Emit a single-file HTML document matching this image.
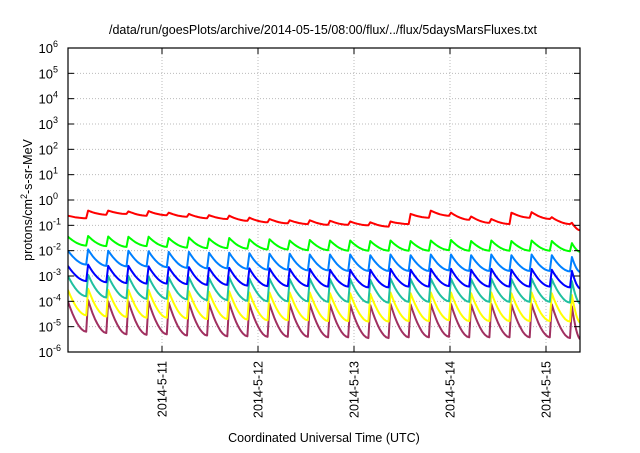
<!DOCTYPE html>
<html><head><meta charset="utf-8"><style>
body{margin:0;background:#fff;}
svg text{font-family:"Liberation Sans",sans-serif;fill:#000;}
</style></head><body>
<svg id="chart" width="640" height="448" viewBox="0 0 640 448" xmlns="http://www.w3.org/2000/svg">
<rect x="0" y="0" width="640" height="448" fill="#fff"/>
<text x="323" y="34" font-size="12.5" text-anchor="middle">/data/run/goesPlots/archive/2014-05-15/08:00/flux/../flux/5daysMarsFluxes.txt</text>
<g id="grid"></g>
<g id="series"></g>
<g id="axes"></g>
<text transform="translate(32,200) rotate(-90)" font-size="12.5" text-anchor="middle">protons/cm<tspan dy="-5" font-size="9">2</tspan><tspan dy="5">-s-sr-MeV</tspan></text>
<text x="324" y="442" font-size="12.5" text-anchor="middle">Coordinated Universal Time (UTC)</text>
</svg>
<script>
// Days since 2014-05-10 00:00
const xTickDays = [1, 2, 3, 4, 5];
const xTickLabels = ["2014-5-11", "2014-5-12", "2014-5-13", "2014-5-14", "2014-5-15"];
const yTickExp = [-6, -5, -4, -3, -2, -1, 0, 1, 2, 3, 4, 5, 6];
const toothStart = [0.0,0.21,0.42,0.63,0.84,1.05,1.26,1.47,1.68,1.89,2.10,2.31,2.52,2.73,2.94,3.15,3.36,3.57,3.78,3.99,4.20,4.41,4.62,4.83,5.04,5.25];
const endDay = 5.36;
const seriesNames = ["red","green","lightblue","blue","teal","yellow","purple"];
const seriesColors = ["#ff0000","#00ff00","#0080ff","#0000ff","#20c0a0","#ffff00","#a03060"];
// log10 flux at peak (start of tooth) and trough (end of tooth)
const redPeak   = [-0.62,-0.42,-0.42,-0.45,-0.44,-0.5,-0.55,-0.6,-0.62,-0.7,-0.75,-0.8,-0.8,-0.82,-0.85,-0.88,-0.85,-0.55,-0.42,-0.5,-0.65,-0.75,-0.5,-0.48,-0.68,-0.9];
const redTrough = [-0.72,-0.58,-0.55,-0.62,-0.6,-0.66,-0.72,-0.75,-0.82,-0.88,-0.92,-0.95,-0.98,-0.98,-1.0,-1.05,-0.95,-0.7,-0.62,-0.78,-0.9,-0.95,-0.7,-0.75,-0.95,-1.2];
const greenPeak   = [-1.45,-1.42,-1.44,-1.45,-1.45,-1.5,-1.48,-1.52,-1.5,-1.55,-1.55,-1.6,-1.58,-1.6,-1.6,-1.62,-1.6,-1.62,-1.6,-1.58,-1.62,-1.6,-1.62,-1.6,-1.62,-1.7];
const greenTrough = [-1.8,-1.82,-1.85,-1.82,-1.85,-1.88,-1.9,-1.9,-1.92,-1.95,-1.95,-1.98,-1.98,-2.0,-2.0,-2.0,-2.0,-2.0,-1.98,-2.0,-2.0,-2.0,-2.0,-2.0,-2.02,-2.05];
const lbluePeak   = [-2.0,-1.95,-2.0,-2.0,-2.02,-2.05,-2.05,-2.08,-2.08,-2.1,-2.12,-2.12,-2.15,-2.15,-2.15,-2.18,-2.15,-2.18,-2.15,-2.15,-2.18,-2.15,-2.18,-2.15,-2.18,-2.25];
const lblueTrough = [-2.55,-2.6,-2.62,-2.62,-2.65,-2.68,-2.7,-2.7,-2.72,-2.75,-2.75,-2.78,-2.78,-2.8,-2.8,-2.8,-2.8,-2.8,-2.78,-2.8,-2.8,-2.8,-2.8,-2.8,-2.82,-2.85];
const bluePeak   = [-2.6,-2.55,-2.6,-2.6,-2.62,-2.65,-2.65,-2.68,-2.68,-2.7,-2.7,-2.72,-2.72,-2.75,-2.75,-2.75,-2.72,-2.75,-2.72,-2.72,-2.75,-2.72,-2.75,-2.72,-2.75,-2.8];
const blueTrough = [-3.2,-3.25,-3.28,-3.3,-3.3,-3.32,-3.35,-3.35,-3.38,-3.4,-3.4,-3.4,-3.42,-3.42,-3.45,-3.45,-3.42,-3.42,-3.4,-3.42,-3.42,-3.42,-3.42,-3.42,-3.45,-3.5];
const tealPeak   = [-3.0,-2.95,-3.0,-3.0,-3.02,-3.05,-3.05,-3.08,-3.05,-3.1,-3.1,-3.12,-3.1,-3.12,-3.12,-3.15,-3.1,-3.12,-3.1,-3.1,-3.12,-3.1,-3.12,-3.1,-3.12,-3.2];
const tealTrough = [-3.8,-3.85,-3.88,-3.9,-3.9,-3.92,-3.95,-3.95,-3.98,-4.0,-4.0,-4.0,-4.02,-4.02,-4.05,-4.05,-4.02,-4.02,-4.0,-4.02,-4.02,-4.02,-4.02,-4.02,-4.05,-4.1];
const yellowPeak   = [-3.55,-3.5,-3.55,-3.55,-3.55,-3.6,-3.6,-3.62,-3.6,-3.65,-3.65,-3.65,-3.65,-3.68,-3.68,-3.7,-3.65,-3.68,-3.65,-3.65,-3.68,-3.65,-3.68,-3.65,-3.68,-3.75];
const yellowTrough = [-4.55,-4.6,-4.62,-4.65,-4.65,-4.68,-4.7,-4.7,-4.72,-4.75,-4.75,-4.75,-4.78,-4.78,-4.8,-4.8,-4.78,-4.78,-4.75,-4.78,-4.78,-4.78,-4.78,-4.78,-4.8,-4.85];
const purplePeak   = [-4.0,-3.95,-4.0,-4.0,-4.0,-4.05,-4.05,-4.08,-4.05,-4.1,-4.1,-4.1,-4.1,-4.12,-4.12,-4.15,-4.1,-4.12,-4.1,-4.1,-4.12,-4.1,-4.12,-4.1,-4.12,-4.2];
const purpleTrough = [-5.2,-5.25,-5.3,-5.32,-5.3,-5.35,-5.35,-5.38,-5.38,-5.4,-5.4,-5.4,-5.42,-5.42,-5.45,-5.45,-5.42,-5.42,-5.4,-5.42,-5.42,-5.42,-5.42,-5.42,-5.45,-5.5];
const peaks = [redPeak, greenPeak, lbluePeak, bluePeak, tealPeak, yellowPeak, purplePeak];
const troughs = [redTrough, greenTrough, lblueTrough, blueTrough, tealTrough, yellowTrough, purpleTrough];

const L = 68, R = 580, T = 48, B = 352;
const dayStart = 0.02;
const pxPerDay = 96;
function xs(d){ return 66 + d * pxPerDay; }
function ys(e){ return B - (e - (-6)) * (B - T) / 12; }
const NS = "http://www.w3.org/2000/svg";
function mk(tag, attrs, parent){
  const el = document.createElementNS(NS, tag);
  for (const k in attrs) el.setAttribute(k, attrs[k]);
  parent.appendChild(el); return el;
}
const grid = document.getElementById('grid');
const axes = document.getElementById('axes');
const series = document.getElementById('series');

yTickExp.forEach(e => {
  const y = ys(e);
  if (e > -6 && e < 6) {
    const g = mk('line', {x1:L, x2:R, y1:y, y2:y, stroke:'#bbb', 'stroke-width':1, 'stroke-dasharray':'1,2'}, grid);
    
    
  }
  const t1 = mk('line', {x1:L, x2:L+6, y1:y, y2:y, stroke:'#000', 'stroke-width':1}, axes);
  
  
  const t2 = mk('line', {x1:R-6, x2:R, y1:y, y2:y, stroke:'#000', 'stroke-width':1}, axes);
  
  
  const tx = mk('text', {x:L-15, y:y+5, 'font-size':13, 'text-anchor':'end'}, axes);
  
  
  tx.appendChild(document.createTextNode('10'));
  const sp = mk('tspan', {x:L-15, y:y-1, 'font-size':9, 'text-anchor':'start'}, tx);
  sp.textContent = String(e);
});
xTickDays.forEach((d, i) => {
  const x = xs(d);
  const g = mk('line', {x1:x, x2:x, y1:T, y2:B, stroke:'#bbb', 'stroke-width':1, 'stroke-dasharray':'1,2'}, grid);
  
  
  const t1 = mk('line', {x1:x, x2:x, y1:B-6, y2:B, stroke:'#000', 'stroke-width':1}, axes);
  
  
  const t2 = mk('line', {x1:x, x2:x, y1:T, y2:T+6, stroke:'#000', 'stroke-width':1}, axes);
  
  
  const tx = mk('text', {transform:'translate(' + (x+4.5) + ',361) rotate(-90)', 'font-size':12.5, 'text-anchor':'end'}, axes);
  
  
  tx.textContent = xTickLabels[i];
});
const frame = mk('rect', {x:L, y:T, width:R-L, height:B-T, fill:'none', stroke:'#000', 'stroke-width':1.2}, axes);



const clip = mk('clipPath', {id:'pc'}, document.getElementById('chart'));
mk('rect', {x:L, y:T, width:R-L, height:B-T}, clip);

for (let s = seriesNames.length - 1; s >= 0; s--) {
  const pk = peaks[s], tr = troughs[s];
  const pts = [];
  for (let i = 0; i < toothStart.length; i++) {
    const t0 = toothStart[i] + 0.02;
    const t1 = i + 1 < toothStart.length ? toothStart[i+1] : endDay;
    // decay from peak to trough with fast-then-slow curve
    const steps = 8;
    for (let k = 0; k <= steps; k++) {
      const f = k / steps;
      const t = t0 + (t1 - t0) * f;
      const v = pk[i] + (tr[i] - pk[i]) * (1 - Math.pow(1 - f, 1.8));
      pts.push(xs(t).toFixed(1) + ',' + ys(v).toFixed(1));
    }
  }
  const pl = mk('polyline', {points:pts.join(' '), fill:'none', stroke:seriesColors[s], 'stroke-width':2, 'stroke-linejoin':'round', 'clip-path':'url(#pc)'}, series);
  
  
}
</script>
</body></html>
